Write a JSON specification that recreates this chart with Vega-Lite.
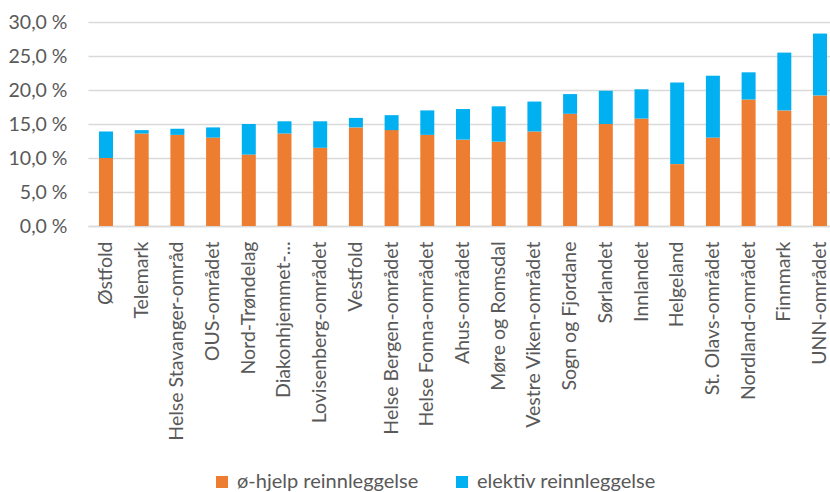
{
  "$schema": "https://vega.github.io/schema/vega-lite/v6.json",
  "width": 742,
  "height": 204,
  "autosize": {"type": "none"},
  "padding": {"left": 88, "top": 22, "right": 0, "bottom": 266},
  "background": "#ffffff",
  "config": {
    "view": {"stroke": null},
    "font": "Lato"
  },
  "data": {
    "values": [
      {"omrade": "Østfold", "type": "ø-hjelp reinnleggelse", "andel": 10.0},
      {"omrade": "Østfold", "type": "elektiv reinnleggelse", "andel": 3.9},
      {"omrade": "Telemark", "type": "ø-hjelp reinnleggelse", "andel": 13.6},
      {"omrade": "Telemark", "type": "elektiv reinnleggelse", "andel": 0.5},
      {"omrade": "Helse Stavanger-områd", "type": "ø-hjelp reinnleggelse", "andel": 13.4},
      {"omrade": "Helse Stavanger-områd", "type": "elektiv reinnleggelse", "andel": 0.9},
      {"omrade": "OUS-området", "type": "ø-hjelp reinnleggelse", "andel": 13.0},
      {"omrade": "OUS-området", "type": "elektiv reinnleggelse", "andel": 1.5},
      {"omrade": "Nord-Trøndelag", "type": "ø-hjelp reinnleggelse", "andel": 10.5},
      {"omrade": "Nord-Trøndelag", "type": "elektiv reinnleggelse", "andel": 4.5},
      {"omrade": "Diakonhjemmet-...", "type": "ø-hjelp reinnleggelse", "andel": 13.6},
      {"omrade": "Diakonhjemmet-...", "type": "elektiv reinnleggelse", "andel": 1.8},
      {"omrade": "Lovisenberg-området", "type": "ø-hjelp reinnleggelse", "andel": 11.5},
      {"omrade": "Lovisenberg-området", "type": "elektiv reinnleggelse", "andel": 3.9},
      {"omrade": "Vestfold", "type": "ø-hjelp reinnleggelse", "andel": 14.5},
      {"omrade": "Vestfold", "type": "elektiv reinnleggelse", "andel": 1.4},
      {"omrade": "Helse Bergen-området", "type": "ø-hjelp reinnleggelse", "andel": 14.1},
      {"omrade": "Helse Bergen-området", "type": "elektiv reinnleggelse", "andel": 2.2},
      {"omrade": "Helse Fonna-området", "type": "ø-hjelp reinnleggelse", "andel": 13.4},
      {"omrade": "Helse Fonna-området", "type": "elektiv reinnleggelse", "andel": 3.6},
      {"omrade": "Ahus-området", "type": "ø-hjelp reinnleggelse", "andel": 12.7},
      {"omrade": "Ahus-området", "type": "elektiv reinnleggelse", "andel": 4.5},
      {"omrade": "Møre og Romsdal", "type": "ø-hjelp reinnleggelse", "andel": 12.4},
      {"omrade": "Møre og Romsdal", "type": "elektiv reinnleggelse", "andel": 5.2},
      {"omrade": "Vestre Viken-området", "type": "ø-hjelp reinnleggelse", "andel": 13.9},
      {"omrade": "Vestre Viken-området", "type": "elektiv reinnleggelse", "andel": 4.4},
      {"omrade": "Sogn og Fjordane", "type": "ø-hjelp reinnleggelse", "andel": 16.5},
      {"omrade": "Sogn og Fjordane", "type": "elektiv reinnleggelse", "andel": 2.9},
      {"omrade": "Sørlandet", "type": "ø-hjelp reinnleggelse", "andel": 15.0},
      {"omrade": "Sørlandet", "type": "elektiv reinnleggelse", "andel": 4.9},
      {"omrade": "Innlandet", "type": "ø-hjelp reinnleggelse", "andel": 15.8},
      {"omrade": "Innlandet", "type": "elektiv reinnleggelse", "andel": 4.3},
      {"omrade": "Helgeland", "type": "ø-hjelp reinnleggelse", "andel": 9.1},
      {"omrade": "Helgeland", "type": "elektiv reinnleggelse", "andel": 12.0},
      {"omrade": "St. Olavs-området", "type": "ø-hjelp reinnleggelse", "andel": 13.0},
      {"omrade": "St. Olavs-området", "type": "elektiv reinnleggelse", "andel": 9.1},
      {"omrade": "Nordland-området", "type": "ø-hjelp reinnleggelse", "andel": 18.6},
      {"omrade": "Nordland-området", "type": "elektiv reinnleggelse", "andel": 4.0},
      {"omrade": "Finnmark", "type": "ø-hjelp reinnleggelse", "andel": 17.0},
      {"omrade": "Finnmark", "type": "elektiv reinnleggelse", "andel": 8.5},
      {"omrade": "UNN-området", "type": "ø-hjelp reinnleggelse", "andel": 19.2},
      {"omrade": "UNN-området", "type": "elektiv reinnleggelse", "andel": 9.1}
    ]
  },
  "mark": {"type": "bar"},
  "encoding": {
    "x": {
      "field": "omrade",
      "type": "nominal",
      "sort": null,
      "scale": {"range": [0, 750], "paddingInner": 0.608, "paddingOuter": 0.308},
      "axis": {
        "title": null,
        "labelAngle": -90,
        "labelFontSize": 19.5,
        "labelColor": "#595959",
        "labelPadding": 15,
        "labelLimit": 260,
        "ticks": false,
        "domainColor": "#D9D9D9",
        "domainWidth": 1.3
      }
    },
    "y": {
      "field": "andel",
      "type": "quantitative",
      "stack": "zero",
      "scale": {"domain": [0, 30], "nice": false},
      "axis": {
        "title": null,
        "values": [0, 5, 10, 15, 20, 25, 30],
        "labelExpr": "replace(format(datum.value, '.1f'), '.', ',') + ' %'",
        "labelFontSize": 19.5,
        "labelColor": "#595959",
        "labelPadding": 21,
        "ticks": false,
        "domain": false,
        "gridColor": "#D9D9D9",
        "gridWidth": 1.3
      }
    },
    "color": {
      "field": "type",
      "type": "nominal",
      "scale": {
        "domain": ["ø-hjelp reinnleggelse", "elektiv reinnleggelse"],
        "range": ["#ED7D31", "#00B0F0"]
      },
      "legend": {
        "title": null,
        "orient": "none",
        "direction": "horizontal",
        "legendX": 124,
        "legendY": 450,
        "symbolType": "square",
        "symbolSize": 144,
        "symbolStrokeWidth": 0,
        "labelFontSize": 20,
        "labelLimit": 320,
        "labelColor": "#595959",
        "labelOffset": 5,
        "columnPadding": 33
      }
    },
    "order": {"field": "type", "sort": "descending"}
  }
}
